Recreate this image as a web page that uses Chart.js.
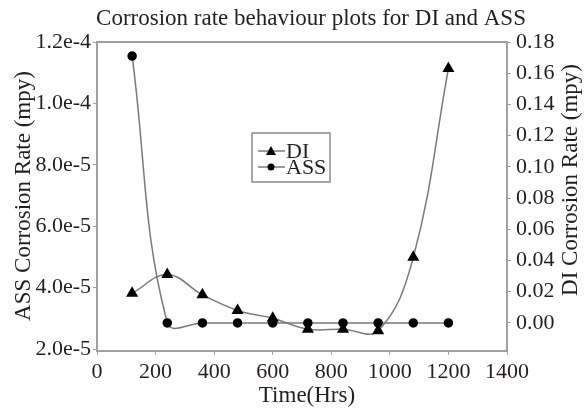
<!DOCTYPE html>
<html>
<head>
<meta charset="utf-8">
<script src="https://cdn.jsdelivr.net/npm/chart.js@4.4.1/dist/chart.umd.min.js"></script>
<style>
  html, body { margin: 0; padding: 0; background: #fff; }
  #wrap { width: 586px; height: 409px; }
</style>
</head>
<body>
<div id="wrap"><canvas id="chart" width="586" height="409"></canvas></div>
<script>
const hours = [120, 240, 360, 480, 600, 720, 840, 960, 1080, 1200];
const assRate = [1.154e-4, 2.85e-5, 2.85e-5, 2.85e-5, 2.85e-5, 2.85e-5, 2.85e-5, 2.85e-5, 2.85e-5, 2.85e-5];
const diRate = [0.019, 0.031, 0.018, 0.008, 0.003, -0.004, -0.004, -0.005, 0.042, 0.163];

const assTicks = [2e-5, 4e-5, 6e-5, 8e-5, 1e-4, 1.2e-4];
const assTickLabels = ["2.0e-5", "4.0e-5", "6.0e-5", "8.0e-5", "1.0e-4", "1.2e-4"];
const diTicks = [0, 0.02, 0.04, 0.06, 0.08, 0.10, 0.12, 0.14, 0.16, 0.18];
const diTickLabels = ["0.00", "0.02", "0.04", "0.06", "0.08", "0.10", "0.12", "0.14", "0.16", "0.18"];

const titleText = "Corrosion rate behaviour plots for DI and ASS";
const xTitle = "Time(Hrs)";
const leftTitle = "ASS Corrosion Rate (mpy)";
const rightTitle = "DI Corrosion Rate (mpy)";

const serif = "'Liberation Serif', 'Times New Roman', serif";
const textColor = "#231f20";
const frameColor = "#a0a0a0";
const lineColor = "#7a7a7a";

const toPoints = (ys) => hours.map((h, i) => ({ x: h, y: ys[i] }));

const drawRotated = (ctx, text, x, y) => {
    ctx.save();
    ctx.translate(x, y);
    ctx.rotate(-Math.PI / 2);
    ctx.fillText(text, 0, 0);
    ctx.restore();
};

const decorations = {
    id: "decorations",
    afterDraw: (chart) => {
        const ctx = chart.ctx;
        const area = chart.chartArea;

        // plot frame
        ctx.save();
        ctx.strokeStyle = frameColor;
        ctx.lineWidth = 2;
        ctx.strokeRect(area.left, area.top, area.right - area.left, area.bottom - area.top);
        ctx.restore();

        // titles
        ctx.save();
        ctx.fillStyle = textColor;
        ctx.textBaseline = "middle";
        ctx.textAlign = "center";
        ctx.font = "23px " + serif;
        ctx.fillText(titleText, 311, 19);
        ctx.fillText(xTitle, 307, 396);
        drawRotated(ctx, leftTitle, 24, 196);
        drawRotated(ctx, rightTitle, 571, 180);
        ctx.restore();

        // legend inside the plot
        ctx.save();
        ctx.strokeStyle = "#8a8a8a";
        ctx.lineWidth = 1.5;
        ctx.strokeRect(252, 133, 78, 49);
        const rows = [151, 167];
        chart.data.datasets.forEach((ds, i) => {
            const y = rows[i];
            ctx.strokeStyle = lineColor;
            ctx.lineWidth = 1.5;
            ctx.beginPath();
            ctx.moveTo(258, y);
            ctx.lineTo(285, y);
            ctx.stroke();
            ctx.fillStyle = "#000";
            ctx.beginPath();
            if (ds.pointStyle === "triangle") {
                ctx.moveTo(271, y - 5);
                ctx.lineTo(276, y + 4);
                ctx.lineTo(266, y + 4);
                ctx.closePath();
            } else {
                ctx.arc(271, y, 3.5, 0, 2 * Math.PI);
            }
            ctx.fill();
            ctx.fillStyle = textColor;
            ctx.font = "22px " + serif;
            ctx.textAlign = "left";
            ctx.textBaseline = "middle";
            ctx.fillText(ds.label, 286, y + 1);
        });
        ctx.restore();
    }
};

const tickFont = { family: serif, size: 22 };

new Chart(document.getElementById("chart").getContext("2d"), {
    type: "line",
    data: {
        datasets: [{
            label: "DI",
            data: toPoints(diRate),
            yAxisID: "yDI",
            borderColor: lineColor,
            borderWidth: 1.5,
            backgroundColor: "#000",
            pointBackgroundColor: "#000",
            pointBorderColor: "#000",
            pointStyle: "triangle",
            pointRadius: 5.5,
            tension: 0.4,
        }, {
            label: "ASS",
            data: toPoints(assRate),
            yAxisID: "yASS",
            borderColor: lineColor,
            borderWidth: 1.5,
            backgroundColor: "#000",
            pointBackgroundColor: "#000",
            pointBorderColor: "#000",
            pointStyle: "circle",
            pointRadius: 4,
            tension: 0.4,
        }],
    },
    options: {
        responsive: false,
        animation: false,
        layout: { padding: { top: 42, left: 0, right: 0, bottom: 0 } },
        plugins: {
            legend: { display: false },
            title: { display: false },
            tooltip: { enabled: false },
        },
        scales: {
            x: {
                type: "linear",
                min: 0,
                max: 1400,
                afterFit: (scale) => { scale.height = 58; },
                ticks: {
                    stepSize: 200,
                    font: tickFont,
                    color: textColor,
                    padding: 4,
                    maxRotation: 0,
                    callback: (value) => String(value),
                },
                grid: { drawOnChartArea: false, tickLength: 4, color: frameColor },
                border: { color: frameColor, width: 2 },
            },
            yASS: {
                type: "linear",
                position: "left",
                min: 1.935e-5,
                max: 1.2e-4,
                afterFit: (scale) => { scale.width = 97; },
                afterBuildTicks: (scale) => { scale.ticks = assTicks.map((v) => ({ value: v })); },
                ticks: {
                    font: tickFont,
                    color: textColor,
                    padding: 2,
                    callback: (value) => assTickLabels[assTicks.findIndex((t) => Math.abs(t - value) < 1e-9)],
                },
                grid: { drawOnChartArea: false, tickLength: 4, color: frameColor },
                border: { color: frameColor, width: 2 },
            },
            yDI: {
                type: "linear",
                position: "right",
                min: -0.018,
                max: 0.18,
                afterFit: (scale) => { scale.width = 79; },
                afterBuildTicks: (scale) => { scale.ticks = diTicks.map((v) => ({ value: v })); },
                ticks: {
                    font: tickFont,
                    color: textColor,
                    padding: 5,
                    callback: (value) => diTickLabels[diTicks.findIndex((t) => Math.abs(t - value) < 1e-6)],
                },
                grid: { drawOnChartArea: false, tickLength: 4, color: frameColor },
                border: { color: frameColor, width: 2 },
            },
        },
    },
    plugins: [decorations],
});
</script>
</body>
</html>
